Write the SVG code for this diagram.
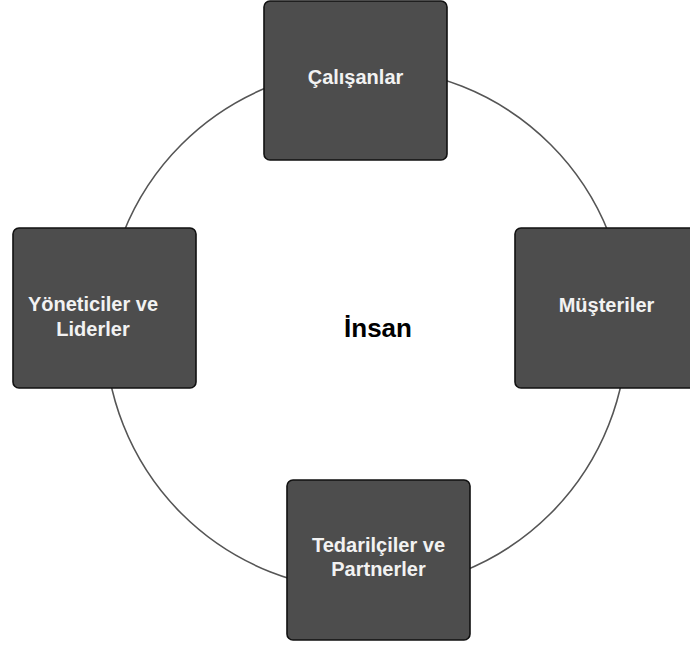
<svg xmlns="http://www.w3.org/2000/svg" width="690" height="645" viewBox="0 0 690 645">
  <style>
    .ring { fill: none; stroke: #555555; stroke-width: 1.6; }
    .box { fill: #4d4d4d; stroke: #111111; stroke-width: 1.6; }
    .lbl { font-family: "Liberation Sans", Arial, sans-serif; font-weight: bold; font-size: 20px; fill: #f2f2f2; text-anchor: middle; }
    .hub { font-family: "Liberation Sans", Arial, sans-serif; font-weight: bold; font-size: 26px; fill: #000000; text-anchor: middle; }
  </style>
  <rect width="690" height="645" fill="#ffffff"/>
  <g id="connectors">
    <circle class="ring" cx="366" cy="329" r="261"/>
  </g>
  <g id="center">
    <text class="hub" x="378" y="337">İnsan</text>
  </g>
  <g id="calisanlar">
    <rect class="box" x="264" y="1" width="183" height="159" rx="6"/>
    <text class="lbl" x="355.5" y="84">Çalışanlar</text>
  </g>
  <g id="yoneticiler">
    <rect class="box" x="13" y="228" width="183" height="160" rx="6"/>
    <text class="lbl" x="93" y="311">Yöneticiler ve</text>
    <text class="lbl" x="93" y="336">Liderler</text>
  </g>
  <g id="musteriler">
    <rect class="box" x="515" y="228" width="183" height="160" rx="6"/>
    <text class="lbl" x="606.5" y="312">Müşteriler</text>
  </g>
  <g id="tedarikciler">
    <rect class="box" x="287" y="480" width="183" height="160" rx="6"/>
    <text class="lbl" x="378.5" y="552">Tedarilçiler ve</text>
    <text class="lbl" x="378.5" y="576">Partnerler</text>
  </g>
</svg>
